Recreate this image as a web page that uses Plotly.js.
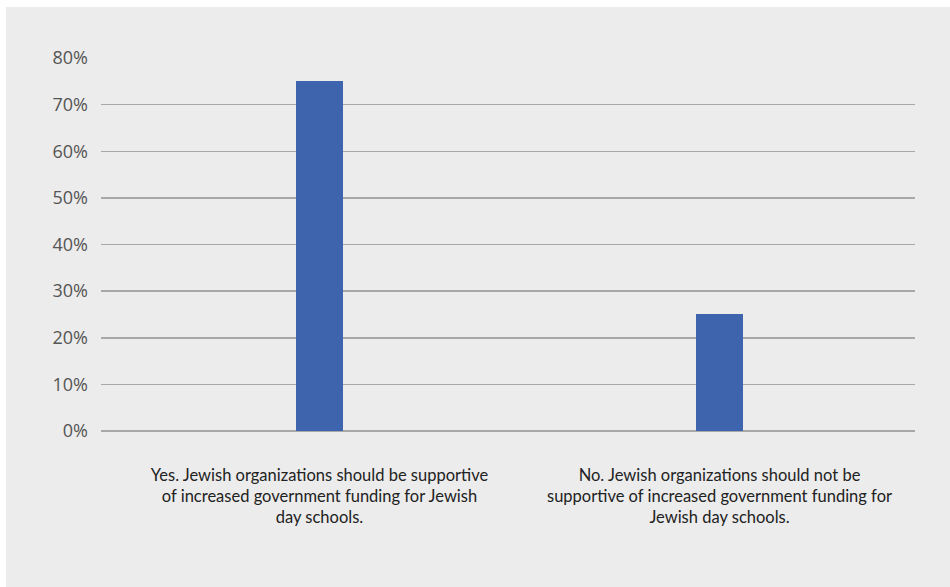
<!DOCTYPE html>
<html>
<head>
<meta charset="utf-8">
<script src="https://cdn.plot.ly/plotly-3.0.1.min.js"></script>
<style>
html,body{margin:0;padding:0;background:#ffffff;width:950px;height:587px;overflow:hidden;}
#chart{position:absolute;left:6px;top:7px;width:944px;height:580px;}
</style>
</head>
<body>
<div id="chart"></div>
<script>
const categories = [
  "Yes. Jewish organizations should be supportive<br>of increased government funding for Jewish<br>day schools.",
  "No. Jewish organizations should not be<br>supportive of increased government funding for<br>Jewish day schools."
];
const shares = [0.75, 0.25];
const yTicks = [0, 0.1, 0.2, 0.3, 0.4, 0.5, 0.6, 0.7, 0.8];
const yTickLabels = ["0%", "10%", "20%", "30%", "40%", "50%", "60%", "70%", "80%"];

const trace = {
  type: 'bar',
  x: categories,
  y: shares,
  width: 0.1175,
  marker: {color: '#3d64ad'},
  hoverinfo: 'none'
};

const layout = {
  width: 944,
  height: 580,
  margin: {l: 95, r: 35, t: 51, b: 156},
  paper_bgcolor: '#ececec',
  plot_bgcolor: '#ececec',
  showlegend: false,
  bargap: 0,
  xaxis: {
    type: 'category',
    range: [-0.54625, 1.48875],
    showgrid: false,
    showline: false,
    zeroline: false,
    ticks: '',
    tickfont: {family: 'Lato, "Open Sans", sans-serif', size: 16.5, color: '#222222'},
    ticklabelstandoff: 32
  },
  yaxis: {
    range: [0, 0.8],
    tickvals: yTicks,
    ticktext: yTickLabels,
    showgrid: true,
    gridcolor: '#a8a8a8',
    gridwidth: 1.5,
    zeroline: true,
    zerolinecolor: '#a8a8a8',
    zerolinewidth: 1.5,
    showline: false,
    ticks: '',
    ticklabelstandoff: 12,
    tickfont: {family: '"Open Sans", sans-serif', size: 18, color: '#555555', weight: 500}
  }
};

Plotly.newPlot('chart', [trace], layout, {displayModeBar: false, staticPlot: true});
</script>
</body>
</html>
